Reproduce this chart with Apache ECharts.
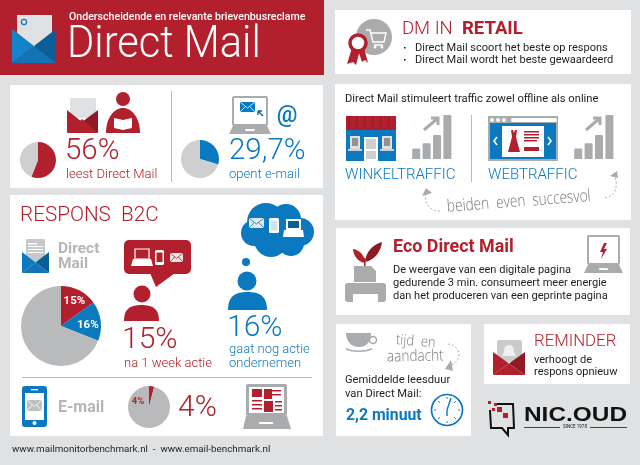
<!DOCTYPE html>
<html>
<head>
    <meta charset="UTF-8">
    <title>Direct Mail</title>
    <script src="https://cdn.jsdelivr.net/npm/echarts@6/dist/echarts.min.js"></script>
    <style type="text/css">
        html, body, #main {
            height: 100%;
            width: 100%;
            margin: 0;
            padding: 0
        }
    </style>
</head>
<body>
<div id="main"></div>
<script type="text/javascript">
    // waarden uit de afbeelding
    var leestDM = [56, 44];
    var opentEmail = [29.7, 70.3];
    var responsDM = [15, 16, 69];
    var responsEmail = [4, 96];
    var trafficBars = [10, 15, 23, 42];
    var trafficCats = ['a', 'b', 'c', 'd'];

    var RED = '#b1202c', DARKRED = '#8f1a24', BLUE = '#0a79bf', DARKBLUE = '#0b5f99';
    var GRAY = '#a9abad', LIGHT = '#cdcfd1', BG = '#dfe1e3', INK = '#1f1f1f';
    var els = [];
    var pathCount = 0;

    function R(x, y, w, h, fill, r, z) {
        els.push({type: 'rect', z: z || 1, shape: {x: x, y: y, width: w, height: h, r: r || 0}, style: {fill: fill}, silent: true});
    }
    function C(x, y, r, fill, stroke, lw) {
        els.push({type: 'circle', z: 1, shape: {cx: x, cy: y, r: r}, style: {fill: fill || 'none', stroke: stroke || null, lineWidth: lw || 0}, silent: true});
    }
    // graphic kent geen 'path', dus elk pad als eigen shape registreren
    function D(path, fill, stroke, lw, dash) {
        var name = 'icon' + (pathCount++);
        echarts.graphic.registerShape(name, echarts.graphic.extendPath(path, {}));
        els.push({type: name, z: 1, style: {fill: fill || 'none', stroke: stroke || null, lineWidth: lw || 0, lineDash: dash || null}, silent: true});
    }
    function T(text, x, y, size, color, weight, opt) {
        opt = opt || {};
        els.push({
            type: 'text', z: 10, x: x, y: y, rotation: opt.rot || 0, scaleX: opt.sx || 1, silent: true,
            style: {
                text: text, x: 0, y: 0, fill: color, textAlign: opt.align || 'left', textVerticalAlign: 'middle',
                font: (opt.italic ? 'italic ' : '') + (weight || 400) + ' ' + size + 'px ' + (opt.family || 'Roboto')
            }
        });
    }
    function laptop(x, y, w, h) {
        els.push({type: 'rect', z: 1, shape: {x: x + 4, y: y + 1, width: w - 8, height: h * 0.74, r: 1}, style: {fill: '#fff', stroke: GRAY, lineWidth: 2}, silent: true});
        D('M' + (x + 4) + ' ' + (y + h * 0.78) + 'L' + (x + w - 4) + ' ' + (y + h * 0.78) + 'L' + (x + w) + ' ' + (y + h) + 'L' + x + ' ' + (y + h) + 'Z', GRAY);
        R(x + w * 0.39, y + h * 0.87, w * 0.22, 2, '#fff');
    }
    function envelope(x, y, w, h, cl, cr, cb) {
        var mx = x + w / 2, my = y + h * 0.5;
        D('M' + x + ' ' + y + 'L' + mx + ' ' + my + 'L' + x + ' ' + (y + h) + 'Z', cl);
        D('M' + (x + w) + ' ' + y + 'L' + mx + ' ' + my + 'L' + (x + w) + ' ' + (y + h) + 'Z', cr);
        D('M' + x + ' ' + (y + h) + 'L' + mx + ' ' + my + 'L' + (x + w) + ' ' + (y + h) + 'Z', cb);
    }
    function person(hx, hy, hr, x, w, top, h, color) {
        C(hx, hy, hr, color);
        D('M' + x + ' ' + (top + h) + 'C' + x + ' ' + (top + h * 0.2) + ' ' + (x + w * 0.2) + ' ' + top + ' ' + (x + w / 2) + ' ' + top +
            'C' + (x + w * 0.8) + ' ' + top + ' ' + (x + w) + ' ' + (top + h * 0.2) + ' ' + (x + w) + ' ' + (top + h) + 'Z', color);
    }
    function miniMail(x, y, w, h, fill, line) {
        R(x, y, w, h, fill);
        D('M' + x + ' ' + y + 'L' + (x + w / 2) + ' ' + (y + h * 0.6) + 'L' + (x + w) + ' ' + y, 'none', line, 0.8);
        D('M' + x + ' ' + (y + h) + 'L' + (x + w * 0.36) + ' ' + (y + h * 0.45) + 'M' + (x + w) + ' ' + (y + h) + 'L' + (x + w * 0.64) + ' ' + (y + h * 0.45), 'none', line, 0.8);
    }

    // panelen
    R(0, 0, 324, 75, RED);
    R(10, 85, 313, 103, '#fff');
    R(10, 195, 313, 241, '#fff');
    R(335, 10, 296, 64, '#fff');
    R(335, 84, 296, 136, '#fff');
    R(336, 228, 294, 87, '#fff');
    R(336, 324, 135, 112, '#fff');
    R(484, 324, 146, 60, '#fff');

    // kop
    D('M27 30L34 13L41 30Z', DARKBLUE);
    D('M17 15L52 15L52 33L34 47L17 33Z', BG);
    C(24, 22, 2.6, 'none', BLUE, 1.2);
    envelope(12, 29, 44, 34, '#1285c9', DARKBLUE, '#1273b5');
    T('Onderscheidende en relevante brievenbusreclame', 69, 17, 10.6, '#fff', 500);
    T('Direct Mail', 67, 46, 45, '#fff', 300, {sx: 0.925});

    // leest / opent
    R(70, 98, 26, 20, BG);
    D('M67 110L82 122L67 133Z', RED);
    D('M98 110L82 122L98 133Z', DARKRED);
    D('M67 133L82 119L98 133Z', RED);
    C(123, 99, 7, RED);
    D('M106 133C106 118 114 108 123 108C132 108 140 118 140 133Z', RED);
    D('M114 118L123 120L132 118L132 128L123 130L114 128Z', '#fff');
    T('56%', 65, 152, 29.5, RED, 300);
    T('leest Direct Mail', 66, 175, 13.1, RED, 300);
    R(171, 91, 1, 91, '#b9babc');
    laptop(229, 96, 42, 38);
    miniMail(240, 102, 15, 10, BLUE, '#fff');
    D('M258 111L263 116M258 111L258 115M258 111L262 111', 'none', DARKBLUE, 1.4);
    T('@', 287, 116, 23, BLUE, 500, {align: 'center'});
    T('29,7%', 229, 152, 29.5, BLUE, 300);
    T('opent e-mail', 229, 175, 13.1, BLUE, 300);

    // respons
    T('RESPONS  B2C', 20, 216, 20.7, RED, 300);
    R(26, 239, 19, 24, '#c7c8ca', 1);
    R(28, 243, 9, 1.5, '#fff'); R(28, 246, 15, 1, '#fff'); R(28, 249, 15, 1, '#fff'); R(28, 252, 15, 1, '#fff');
    envelope(22, 252, 27, 21, BLUE, DARKBLUE, '#1273b5');
    T('Direct', 58, 249, 15.5, '#b5b6b8', 700);
    T('Mail', 58, 264, 15.5, '#b5b6b8', 700);

    R(124, 240, 67, 34, RED, 5);
    D('M150 273L156 287L175 273Z', RED);
    els.push({type: 'rect', z: 1, shape: {x: 135, y: 249, width: 14, height: 10}, style: {fill: RED, stroke: '#fff', lineWidth: 1.2}, silent: true});
    D('M131 266L153 266L151 259L133 259Z', '#fff');
    R(155, 250, 9, 15, '#fff', 1.5); R(156.5, 252.5, 6, 9.5, RED);
    miniMail(170, 253, 13, 9, '#e9e3e3', RED);
    person(142, 294, 8.5, 124, 35, 305, 16, RED);
    T('15%', 122, 340, 30, RED, 300);
    T('na 1 week actie', 124, 364, 13, RED, 300);

    // wolk
    C(266, 222, 19, BLUE); C(286, 219, 15, BLUE); C(300, 232, 14, BLUE); C(254, 233, 13, BLUE);
    C(271, 240, 17, BLUE); C(291, 243, 13, BLUE); C(280, 230, 18, BLUE);
    miniMail(249, 218, 15, 10, '#e6e7e8', BLUE);
    R(269, 218, 10, 15, '#fff', 1.5); R(270.5, 220.5, 7, 10, '#cfe3f1');
    R(286, 219, 15, 11, '#fff'); R(288, 221, 11, 7, DARKBLUE);
    D('M284 230L303 230L304 237L283 237Z', '#fff');
    C(246, 262, 4, BLUE);
    person(247, 281, 9.5, 228, 39, 292, 18, BLUE);
    T('16%', 227, 328, 30, BLUE, 300);
    T('gaat nog actie', 229, 350, 13, BLUE, 300);
    T('ondernemen', 229, 364, 13, BLUE, 300);

    R(22, 377, 290, 1, '#b9babc');

    // e-mail rij
    R(22, 386, 25, 41, BLUE, 3);
    R(25, 393, 19, 27, '#fff'); R(31, 389, 7, 1.3, '#fff'); C(34.5, 423, 2, '#fff');
    miniMail(27, 400, 15, 11, '#bdbfc1', '#fff');
    T('E-mail', 58, 408, 16, '#b5b6b8', 700);
    T('4%', 138, 402, 9.5, RED, 700, {align: 'center'});
    T('4%', 178, 408, 30, RED, 300);
    R(246, 384, 41, 32, GRAY, 2); R(249, 387, 35, 26, '#fff');
    R(252, 389, 10, 8, RED); R(264, 389, 8, 10, RED); R(264, 390, 17, 1.5, RED); R(264, 394, 17, 1.5, RED);
    R(252, 400, 10, 1.5, RED); R(252, 404, 10, 1.5, RED); R(252, 408, 10, 1.5, RED); R(264, 401, 9, 11, RED); R(275, 401, 7, 1.5, RED);
    R(275, 405, 7, 1.5, RED); R(275, 409, 7, 1.5, RED);
    D('M246 416L287 416L291 429L243 429Z', GRAY); R(259, 422, 14, 2, '#fff');

    T('www.mailmonitorbenchmark.nl  -  www.email-benchmark.nl', 12, 450, 9.8, INK, 400);

    // DM in retail
    C(374, 37, 18, GRAY);
    D('M366 30L370 30L373 42L384 42L386 33L371 33M374 45L383 45', 'none', '#fff', 1.4);
    C(375, 47, 1.5, '#fff'); C(382, 47, 1.5, '#fff');
    D('M352 48L347 64L353 62L356 65L360 50Z', RED);
    D('M358 50L362 62L365 60L368 63L364 48Z', RED);
    C(358, 43, 8, '#fff', RED, 3.5);
    T('DM IN', 402, 29, 18.5, RED, 300);
    T('RETAIL', 462, 29, 18.5, RED, 700);
    R(404, 47, 1.6, 1.6, INK); R(404, 59, 1.6, 1.6, INK);
    T('Direct Mail scoort het beste op respons', 415, 48, 11.05, INK);
    T('Direct Mail wordt het beste gewaardeerd', 415, 60, 11.05, INK);

    // traffic
    T('Direct Mail stimuleert traffic zowel offline als online', 345, 99, 11.2, INK);
    R(346, 130, 50, 31, BLUE);
    R(346, 116, 50, 14, RED);
    for (var a = 0; a < 6; a++) R(348.5 + a * 8, 116, 1, 14, DARKRED);
    R(350, 136, 10, 13, BG); R(352, 138, 6, 8, '#8f9193');
    R(382, 136, 10, 13, BG); R(384, 138, 6, 8, '#8f9193');
    R(348, 149, 14, 2, LIGHT); R(380, 149, 14, 2, LIGHT);
    R(364, 137, 14, 24, '#fff'); R(366, 139, 10, 10, LIGHT); R(366, 151, 10, 8, LIGHT);
    D('M424 130L438 118M431 118L438 118L438 125', 'none', GRAY, 3);
    R(488, 116, 70, 45, GRAY);
    R(490, 118, 66, 41, BLUE);
    R(488, 116, 70, 7, GRAY);
    R(511, 118, 46, 4, '#fff', 2);
    C(492, 120, 2, '#fff'); C(498, 120, 2, '#fff'); C(504, 120, 2, '#fff');
    R(502, 126, 42, 31, '#fff');
    D('M497 137L494 141L497 145M548 137L551 141L548 145', 'none', '#fff', 1.6);
    D('M511 130L513 130L514 133L515 130L517 130L516 137L520 152L508 152L512 137Z', RED);
    R(524, 131, 15, 1.5, RED); R(524, 134, 15, 1.5, RED); R(524, 137, 15, 1.5, RED); R(524, 140, 13, 1.5, RED);
    R(524, 147, 15, 4, RED);
    D('M586 130L600 118M593 118L600 118L600 125', 'none', GRAY, 3);
    T('WINKELTRAFFIC', 345, 175, 15, BLUE, 300);
    T('WEBTRAFFIC', 488, 175, 15, BLUE, 300);
    R(471, 115, 1, 67, '#b9babc');
    T('beiden  even  succesvol', 447, 207, 17, '#77797b', 300, {rot: 0.075, family: 'Open Sans', sx: 0.8});
    D('M440 211C431 211 424 205 426 194', 'none', '#9a9c9e', 0.8, [2, 2]);
    D('M422 196L426 188L432 193Z', '#a9abad');
    D('M605 198C616 196 618 186 615 177', 'none', '#9a9c9e', 0.8, [2, 2]);
    D('M610 176L617 171L618 178Z', '#a9abad');

    // eco
    D('M365 263C357 262 353 254 353 249C360 250 365 256 365 263Z', RED);
    D('M365 262C366 252 372 245 382 242C381 251 375 260 365 262Z', DARKRED);
    R(364, 258, 1.6, 8, RED);
    D('M354 266L371 266L376 271L376 282L354 282Z', GRAY);
    R(345, 283, 41, 19, GRAY, 3);
    R(353, 294, 25, 8, '#fff');
    T('Eco Direct Mail', 393, 248, 17.9, RED, 700);
    T('De weergave van een digitale pagina', 393, 270, 11.05, INK);
    T('gedurende 3 min. consumeert meer energie', 393, 283, 11.05, INK);
    T('dan het produceren van een geprinte pagina', 393, 296, 11.05, INK);
    laptop(584, 235, 39, 38);
    D('M604 243L600 252L603 252L601 259L607 249L604 249L607 243Z', RED);

    // leesduur
    D('M346 333L371 333C371 341 367 347 359 347C351 347 346 341 346 333Z', GRAY);
    C(373, 340, 3.5, 'none', GRAY, 1.6);
    D('M346 349C353 352 365 352 372 349', 'none', GRAY, 1.6);
    T('tijd  en', 396, 340, 14.5, '#77797b', 300, {rot: -0.08, family: 'Open Sans', sx: 0.9});
    T('aandacht', 387, 357, 16, '#77797b', 300, {rot: 0.02, family: 'Open Sans', sx: 0.85});
    D('M448 344C458 345 466 358 450 366', 'none', '#9a9c9e', 0.8, [2, 2]);
    D('M451 360L453 371L445 369Z', '#a9abad');
    T('Gemiddelde leesduur', 345, 380, 11.2, INK);
    T('van Direct Mail:', 345, 394, 11.2, INK);
    T('2,2 minuut', 346, 416, 15.8, BLUE, 700);
    C(447, 410, 15.5, '#fff', BLUE, 1.7);
    D('M447 410L451 398M447 410L447 416', 'none', BLUE, 1.4);
    D('M447 397L447 399M447 421L447 423M434 410L436 410M458 410L460 410M438 401L440 403M454 417L456 419M438 419L440 417M454 403L456 401', 'none', BLUE, 0.9);

    // reminder
    R(497, 340, 25, 22, '#c9cbcd', 2);
    D('M509 345C505 345 504 348 504 352L502 356L516 356L514 352C514 348 513 345 509 345Z', '#eef0f1');
    envelope(493, 352, 32, 23, RED, DARKRED, RED);
    T('REMINDER', 534, 342, 16.8, RED, 300);
    T('verhoogt de', 534, 360, 11, INK);
    T('respons opnieuw', 534, 372, 11, INK);

    // logo
    D('M494 404L513 404L514 428L508 428L508 435L502 428L491 428L490 410', 'none', '#111', 2);
    R(488, 401, 3, 3, RED); R(494, 403, 3, 3, RED); R(497, 407, 5, 5, RED); R(503, 413, 5, 5, RED); R(492, 408, 3, 3, RED);
    T('NIC.OUD', 524, 415, 20, '#111', 700, {family: 'Liberation Sans', sx: 1.22});
    R(524, 427, 36, 0.8, '#111'); R(590, 427, 37, 0.8, '#111');
    T('SINCE 1978', 575, 427, 4.5, '#111', 400, {align: 'center'});

    function pie(cx, cy, r, values, colors, extra) {
        var s = {
            type: 'pie', center: [cx, cy], radius: [0, r], silent: true, animation: false, z: 5,
            itemStyle: {borderWidth: 0},
            label: {show: false}, labelLine: {show: false},
            data: values.map(function (v, i) {
                return {value: v, itemStyle: {color: colors[i]}};
            })
        };
        return Object.assign(s, extra || {});
    }

    function bars(left) {
        return {
            left: left, top: 115, width: 41.6, height: 44
        };
    }
    function barX(i) {
        return {
            type: 'category', gridIndex: i, data: trafficCats,
            axisLine: {lineStyle: {color: GRAY, width: 2}}, axisTick: {show: false}, axisLabel: {show: false}
        };
    }
    function barY(i) {
        return {
            type: 'value', gridIndex: i, min: 0, max: 42, splitLine: {show: false}, axisLabel: {show: false}, axisTick: {show: false},
            offset: 3, axisLine: {show: true, lineStyle: {color: GRAY, width: 2}}
        };
    }
    function barS(i) {
        return {
            type: 'bar', xAxisIndex: i, yAxisIndex: i, data: trafficBars, barWidth: 8, silent: true, animation: false,
            itemStyle: {color: GRAY, borderRadius: [1, 1, 0, 0]}
        };
    }

    var mycharts = echarts.init(document.getElementById('main'));
    var option = {
        backgroundColor: BG,
        animation: false,
        grid: [bars(411), bars(573)],
        xAxis: [barX(0), barX(1)],
        yAxis: [barY(0), barY(1)],
        graphic: {elements: els},
        series: [
            pie(38, 160, 18, leestDM, [RED, LIGHT]),
            pie(200, 159, 19, opentEmail, [BLUE, LIGHT]),
            pie(61, 326, 40, responsDM, [RED, BLUE, '#b9babc'], {
                label: {
                    show: true, position: 'inside', color: '#fff', fontFamily: 'Roboto', fontWeight: 700, fontSize: 11.5,
                    formatter: function (p) {
                        return p.dataIndex < 2 ? p.value + '%' : '';
                    }
                },
                labelLayout: function (p) {
                    return p.dataIndex === 0 ? {dx: 3, dy: -4} : {dx: 4, dy: 2};
                }
            }),
            pie(149, 407, 21, responsEmail, [RED, '#b9babc']),
            barS(0),
            barS(1)
        ]
    };
    mycharts.setOption(option);
</script>
</body>
</html>
